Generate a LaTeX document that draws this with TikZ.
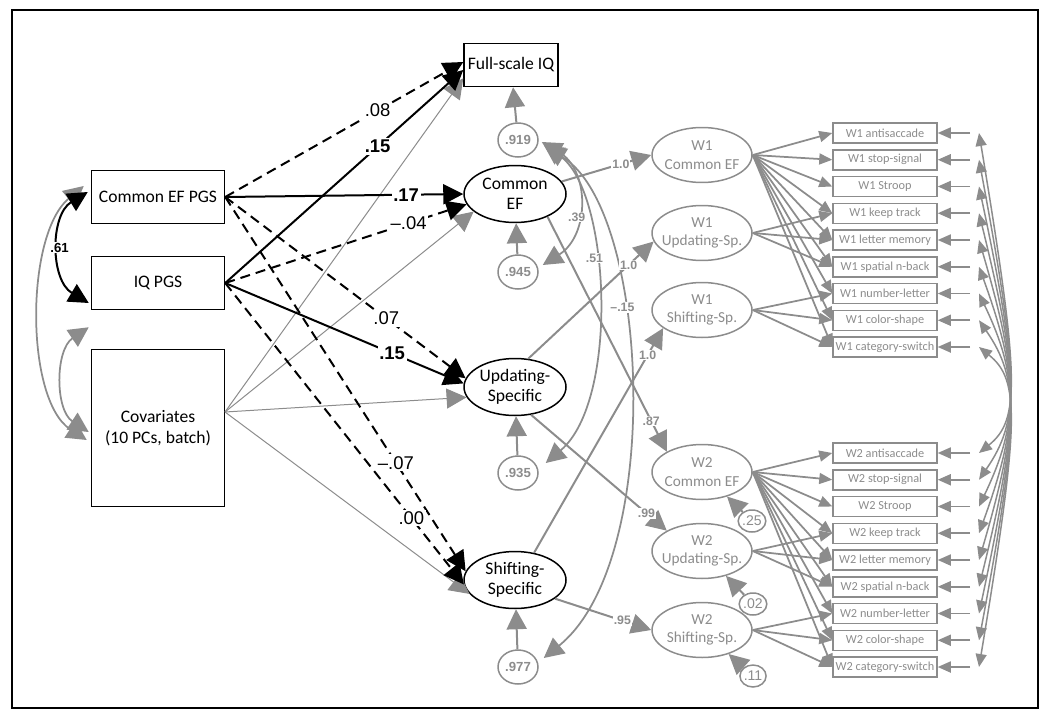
\documentclass[tikz,border=0pt]{standalone}
\usepackage{fontspec}
\setmainfont{Carlito}
\newfontfamily\numfont{Liberation Sans}
\usetikzlibrary{arrows.meta,calc,shapes.geometric}
\definecolor{semgray}{RGB}{140,140,140}
\tikzset{
	obsbox/.style={draw, line width=0.3mm, inner sep=0pt, align=center, font=\fontsize{10}{12}\selectfont},
	latbig/.style={draw, ellipse, line width=0.3mm, inner sep=0pt, align=center, minimum width=20.4mm, minimum height=11.4mm, font=\fontsize{10}{11.5}\selectfont},
	latw/.style={draw=semgray, text=semgray, ellipse, line width=0.3mm, inner xsep=-4pt, inner ysep=0pt, align=center, minimum width=20mm, minimum height=11mm, font=\fontsize{8.7}{10.4}\selectfont},
	resid/.style={draw=semgray, text=semgray, ellipse, line width=0.3mm, inner sep=0pt, minimum width=8mm, minimum height=6.8mm, font=\numfont\bfseries\fontsize{7.5}{9}\selectfont},
	residsm/.style={draw=semgray, text=semgray, ellipse, line width=0.3mm, inner sep=0pt, minimum width=5.2mm, minimum height=4.4mm, font=\numfont\fontsize{8}{9}\selectfont},
	indbox/.style={draw=semgray, text=semgray, line width=0.3mm, inner sep=0pt, minimum width=20.8mm, minimum height=4mm, font=\fontsize{7}{8}\selectfont},
	bigtip/.style={-{Triangle[length=4mm,width=4mm]}},
	smalltip/.style={-{Triangle[length=2.6mm,width=2.2mm]}},
	blkpath/.style={line width=0.4mm, bigtip},
	blkdash/.style={blkpath, dash pattern=on 2mm off 1.2mm},
	grypath/.style={semgray, line width=0.4mm, bigtip},
	thinpath/.style={semgray, line width=0.2mm, bigtip},
	ldg/.style={semgray, line width=0.35mm, smalltip},
	covblk/.style={line width=0.4mm, {Triangle[length=4mm,width=4mm]}-{Triangle[length=4mm,width=4mm]}},
	covgray/.style={semgray, line width=0.35mm, {Triangle[length=4mm,width=4mm]}-{Triangle[length=4mm,width=4mm]}},
	covsm/.style={semgray, line width=0.3mm, {Triangle[length=2.6mm,width=2.2mm]}-{Triangle[length=2.6mm,width=2.2mm]}},
	biglbl/.style={fill=white, inner sep=1pt, font=\numfont\fontsize{10.5}{12}\selectfont},
	boldlbl/.style={biglbl, font=\numfont\bfseries\fontsize{10.5}{12}\selectfont},
	smlbl/.style={fill=white, inner sep=0.5pt, text=semgray, font=\numfont\bfseries\fontsize{7}{8}\selectfont},
}

\begin{document}
\begin{tikzpicture}[x=0.02cm, y=-0.02cm]
	%%%%% START %%%%%
	\useasboundingbox (0,0) rectangle (1050,720);
	\draw[line width=0.4mm] (12,10) rectangle (1038,708);
	
	% observed predictors
	\node[obsbox, minimum width=26.6mm, minimum height=10.6mm] (cefpgs) at (158,197) {Common EF PGS};
	\node[obsbox, minimum width=26.6mm, minimum height=10.6mm] (iqpgs) at (158,283) {IQ PGS};
	\node[obsbox, minimum width=26.6mm, minimum height=31.4mm] (cov) at (158,428) {Covariates\\(10 PCs, batch)};
	\coordinate (covout) at (225,412);
	\node[obsbox, minimum width=18.8mm, minimum height=8.6mm] (fsiq) at (511,65) {Full-scale IQ};
	
	% latent factors
	\node[latbig] (cef) at (515,194) {Common\\EF};
	\node[latbig] (upd) at (515,387) {Updating-\\Specific};
	\node[latbig] (shf) at (515,580) {Shifting-\\Specific};
	
	\node[resid] (r919) at (518,140) {.919};
	\node[resid] (r945) at (518,272) {.945};
	\node[resid] (r935) at (518,473) {.935};
	\node[resid] (r977) at (518,667) {.977};
	
	\node[latw] (w1c) at (702,155) {W1\\Common EF};
	\node[latw] (w1u) at (702,233) {W1\\Updating-Sp.};
	\node[latw] (w1s) at (702,310) {W1\\Shifting-Sp.};
	\node[latw] (w2c) at (702,472) {W2\\Common EF};
	\node[latw] (w2u) at (702,551) {W2\\Updating-Sp.};
	\node[latw] (w2s) at (702,630) {W2\\Shifting-Sp.};
	
	\node[residsm] (r25) at (752,521) {.25};
	\node[residsm] (r02) at (753,604) {.02};
	\node[residsm] (r11) at (753,676) {.11};
	
	% covariate paths
	\draw[thinpath] (covout) -- ($(fsiq.south west)+(0,-9)$);
	\draw[thinpath] (covout) -- (cef.203);
	\draw[thinpath] (covout) -- (upd.192);
	\draw[thinpath] (covout) -- (shf.197);
	
	% PGS paths
	\draw[blkdash] (cefpgs.east) -- node[biglbl, pos=0.64] {.08} ($(fsiq.west)+(0,-3)$);
	\draw[blkpath] (iqpgs.east) -- node[boldlbl, pos=0.64] {.15} ($(fsiq.west)+(0,5)$);
	\draw[blkpath] (cefpgs.east) -- node[boldlbl, pos=0.76] {.17} (cef.west);
	\draw[blkdash] (iqpgs.east) -- node[biglbl, pos=0.76] {–.04} (cef.192);
	\draw[blkdash] (cefpgs.east) -- node[biglbl, pos=0.67] {.07} (upd.170);
	\draw[blkpath] (iqpgs.east) -- node[boldlbl, pos=0.7] {.15} (upd.176);
	\draw[blkdash] (cefpgs.east) -- node[biglbl, pos=0.71] {–.07} (shf.170);
	\draw[blkdash] (iqpgs.east) -- node[biglbl, pos=0.78] {.00} (shf.185);
	
	% predictor covariances
	\draw[covgray] ($(cefpgs.west)+(-7,-11)$) .. controls (25,235) and (25,400) .. ($(cov.west)+(-4,12)$);
	\draw[covgray] ($(iqpgs.south west)+(-2,17)$) .. controls (55,350) and (55,410) .. ($(cov.west)+(-2,4)$);
	\draw[covblk] ($(cefpgs.west)+(-3,-5)$) .. controls (50,215) and (50,280) .. node[fill=white, inner sep=0.5pt, pos=0.5, font=\numfont\bfseries\fontsize{7.5}{9}\selectfont] {.61} ($(iqpgs.west)+(-2,20)$);
	
	% residuals
	\draw[grypath] (r919) -- (fsiq);
	\draw[grypath] (r945) -- (cef);
	\draw[grypath] (r935) -- (upd);
	\draw[grypath] (r977) -- (shf);
	\draw[grypath] (r25) -- (w2c);
	\draw[grypath] (r02) -- (w2u);
	\draw[grypath] (r11) -- (w2s);
	
	\draw[covgray] ($(r919.east)+(3,2)$) .. controls (590,170) and (590,235) .. node[smlbl, pos=0.6] {.39} ($(r945.east)+(4,-7)$);
	\draw[covgray] ($(r919.east)+(5,5)$) .. controls (610,190) and (620,400) .. node[smlbl, pos=0.4] {.51} ($(r935.east)+(7,-10)$);
	\draw[covgray] ($(r919.east)+(7,7)$) .. controls (650,210) and (665,560) .. node[smlbl, pos=0.37] {–.15} ($(r977.east)+(5,-9)$);
	
	% wave loadings
	\draw[grypath] (cef.15) -- node[smlbl, pos=0.66] {1.0} (w1c.west);
	\draw[grypath] (cef.-35) -- node[smlbl, pos=0.87] {.87} (w2c.150);
	\draw[grypath] (upd.65) -- node[smlbl, pos=0.8] {1.0} (w1u.190);
	\draw[grypath] (upd.-60) -- node[smlbl, pos=0.85] {.99} (w2u.150);
	\draw[grypath] (shf.55) -- node[smlbl, pos=0.88] {1.0} (w1s.205);
	\draw[grypath] (shf.-25) -- node[smlbl, pos=0.7] {.95} (w2s.west);
	
	% tasks
	\foreach \task [count=\i] in {antisaccade, stop-signal, Stroop, keep track, letter memory, spatial n-back, number-letter, color-shape, category-switch}{
		\node[indbox] (w1t\i) at (885,{133+26.75*(\i-1)}) {W1 \task};
		\node[indbox] (w2t\i) at (885,{453+26.75*(\i-1)}) {W2 \task};
		\coordinate (w1e\i) at (979,{133+26.75*(\i-1)});
		\coordinate (w2e\i) at (979,{453+26.75*(\i-1)});
		\draw[ldg, shorten <=1.8mm] (w1e\i) -- (w1t\i);
		\draw[ldg, shorten <=1.8mm] (w2e\i) -- (w2t\i);
		\draw[ldg] (w1c.east) -- (w1t\i.west);
		\draw[ldg] (w2c.east) -- (w2t\i.west);
		\draw[covsm] (w1e\i) .. controls (1020,380) and (1020,420) .. (w2e\i);
	}
	\foreach \i in {4,5,6}{
		\draw[ldg] (w1u.east) -- (w1t\i.west);
		\draw[ldg] (w2u.east) -- (w2t\i.west);
	}
	\foreach \i in {7,8,9}{
		\draw[ldg] (w1s.east) -- (w1t\i.west);
		\draw[ldg] (w2s.east) -- (w2t\i.west);
	}
	%%%%% END %%%%%
\end{tikzpicture}
\end{document}
